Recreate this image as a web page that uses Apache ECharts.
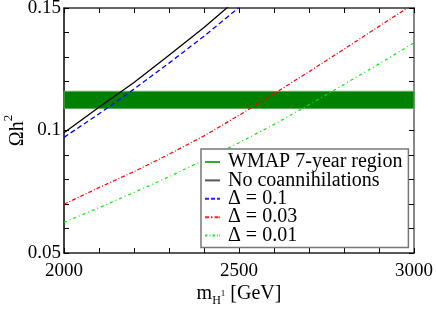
<!DOCTYPE html>
<html>
<head>
<meta charset="utf-8">
<script src="https://cdn.jsdelivr.net/npm/echarts@6/dist/echarts.min.js"></script>
<style>html,body{margin:0;padding:0;background:#fff}#c{width:436px;height:309px}</style>
</head>
<body>
<div id="c"></div>
<script>
// ---- data ----
const xTickLabels = ['2000', '2500', '3000'];
const yTickLabels = ['0.05', '0.1', '0.15'];
const bandLow = 0.109, bandHigh = 0.116;
const seriesNames = ['WMAP 7-year region', 'No coannihilations', 'Δ = 0.1', 'Δ = 0.03', 'Δ = 0.01'];
const blackX = [2000, 2100, 2200, 2300, 2400, 2470];
const blackY = [0.0991, 0.1095, 0.1196, 0.1307, 0.1420, 0.1506];
const blueX = [2000, 2100, 2200, 2300, 2400, 2500];
const blueY = [0.0972, 0.1068, 0.1169, 0.1275, 0.1385, 0.1502];
const redX = [2000, 2100, 2200, 2300, 2400, 2500, 2600, 2700, 2800, 2900, 3000];
const redY = [0.0699, 0.0767, 0.0832, 0.0903, 0.0978, 0.1062, 0.1150, 0.1240, 0.1332, 0.1425, 0.1518];
const greenX = [2000, 2100, 2200, 2300, 2400, 2500, 2600, 2700, 2800, 2900, 3000];
const greenY = [0.0625, 0.0685, 0.0747, 0.0811, 0.0880, 0.0950, 0.1025, 0.1105, 0.1188, 0.1272, 0.1358];

const pairs = (xs, ys) => xs.map((x, i) => [x, ys[i]]);
const FONT = 'Liberation Serif';

// legend line icons (15 x 2 box)
const ICON_SOLID = 'path://M0,0h15v2h-15z';
const ICON_DASH = 'path://M0,0h4v2h-4z M6,0h4v2h-4z M12,0h3v2h-3z';
const ICON_DASHDOT = 'path://M0,0h4v2h-4z M6,0h1.5v2h-1.5z M9.5,0h4v2h-4z M14.2,0h0.8v2h-0.8z';
const ICON_DASHDOTDOT = 'path://M0,0h2.5v2h-2.5z M4.5,0h1v2h-1z M7.5,0h2.5v2h-2.5z M12,0h1v2h-1z M14.2,0h0.8v2h-0.8z';

const chart = echarts.init(document.getElementById('c'), null, {renderer: 'canvas'});
const tickStyle = {show: true, inside: true, length: 5, lineStyle: {color: '#000', width: 1}};
const option = {
  backgroundColor: '#fff',
  animation: false,
  grid: {left: 64, right: 22, top: 8, bottom: 56, containLabel: false, outerBoundsMode: 'none'},
  legend: {
    orient: 'vertical',
    left: 201, top: 149,
    width: 206,
    padding: [3, 6, 2, 4],
    itemWidth: 15, itemHeight: 2,
    itemGap: -1.6,
    backgroundColor: '#fff',
    borderColor: '#777', borderWidth: 1.5,
    textStyle: {fontFamily: FONT, fontSize: 20, color: '#000', lineHeight: 18.4, padding: [0, 0, 0, 3]},
    data: [
      {name: seriesNames[0], icon: ICON_SOLID, itemStyle: {color: '#33aa33'}},
      {name: seriesNames[1], icon: ICON_SOLID, itemStyle: {color: '#555555'}},
      {name: seriesNames[2], icon: ICON_DASH, itemStyle: {color: '#2222ff'}},
      {name: seriesNames[3], icon: ICON_DASHDOT, itemStyle: {color: '#ff2222'}},
      {name: seriesNames[4], icon: ICON_DASHDOTDOT, itemStyle: {color: '#22ee22'}}
    ]
  },
  xAxis: [{
    type: 'value', min: 2000, max: 3000, interval: 100,
    axisLine: {show: true, onZero: false, lineStyle: {color: '#222', width: 1.5}},
    axisTick: tickStyle,
    splitLine: {show: false},
    axisLabel: {
      fontFamily: FONT, fontSize: 19, color: '#000', margin: 9,
      formatter: v => { const i = xTickLabels.indexOf(String(Math.round(v))); return i >= 0 ? xTickLabels[i] : ''; }
    },
    name: '{m|m}{h|H}{p|1}{m| [GeV]}',
    nameLocation: 'middle', nameGap: 28, nameMoveOverlap: false,
    nameTextStyle: {
      fontFamily: FONT, color: '#000',
      rich: {
        m: {fontFamily: FONT, fontSize: 20, color: '#000', lineHeight: 26, verticalAlign: 'middle'},
        h: {fontFamily: FONT, fontSize: 12, color: '#000', lineHeight: 26, verticalAlign: 'bottom'},
        p: {fontFamily: FONT, fontSize: 9, color: '#000', lineHeight: 26, verticalAlign: 'middle'}
      }
    }
  }, {
    type: 'value', min: 2000, max: 3000, interval: 100, position: 'top',
    axisLine: {show: true, onZero: false, lineStyle: {color: '#333', width: 1.5}},
    axisTick: tickStyle, axisLabel: {show: false}, splitLine: {show: false}
  }],
  yAxis: [{
    type: 'value', min: 0.05, max: 0.15, interval: 0.01,
    axisLine: {show: true, onZero: false, lineStyle: {color: '#000', width: 1.5}},
    axisTick: tickStyle,
    splitLine: {show: false},
    axisLabel: {
      fontFamily: FONT, fontSize: 19, color: '#000', margin: 3,
      formatter: v => {
        const r = Math.round(v * 100);
        if (r % 5 !== 0) return '';
        return yTickLabels[(r - 5) / 5] || '';
      }
    },
    name: '{o|Ωh}{s|2}',
    nameLocation: 'middle', nameGap: 36, nameRotate: 90, nameMoveOverlap: false,
    nameTextStyle: {
      fontFamily: FONT, color: '#000',
      rich: {
        o: {fontFamily: FONT, fontSize: 20, color: '#000', lineHeight: 26, verticalAlign: 'bottom'},
        s: {fontFamily: FONT, fontSize: 13, color: '#000', lineHeight: 26, verticalAlign: 'top'}
      }
    }
  }, {
    type: 'value', min: 0.05, max: 0.15, interval: 0.01, position: 'right',
    axisLine: {show: true, onZero: false, lineStyle: {color: '#888', width: 2}},
    axisTick: tickStyle, axisLabel: {show: false}, splitLine: {show: false}
  }],
  series: [
    {
      name: seriesNames[0], type: 'line', data: [], z: 1,
      color: '#33aa33', lineStyle: {color: '#33aa33'}, symbol: 'none',
      markArea: {
        silent: true,
        itemStyle: {color: '#008000', opacity: 1, borderColor: '#55aa55', borderWidth: 1},
        data: [[{yAxis: bandLow}, {yAxis: bandHigh}]]
      }
    },
    {
      name: seriesNames[1], type: 'line', data: pairs(blackX, blackY), symbol: 'none', z: 3,
      color: '#555', lineStyle: {color: '#000', width: 1.3, type: 'solid'}
    },
    {
      name: seriesNames[2], type: 'line', data: pairs(blueX, blueY), symbol: 'none', z: 3,
      color: '#0000ff', lineStyle: {color: '#0000ff', width: 1.3, type: [5, 3]}
    },
    {
      name: seriesNames[3], type: 'line', data: pairs(redX, redY), symbol: 'none', z: 3,
      color: '#ff0000', lineStyle: {color: '#ff0000', width: 1.2, type: [4, 2, 1, 2]}
    },
    {
      name: seriesNames[4], type: 'line', data: pairs(greenX, greenY), symbol: 'none', z: 3,
      color: '#00ee00', lineStyle: {color: '#00ee00', width: 1.2, type: [3, 3, 1, 3]}
    }
  ]
};
chart.setOption(option);
</script>
</body>
</html>
